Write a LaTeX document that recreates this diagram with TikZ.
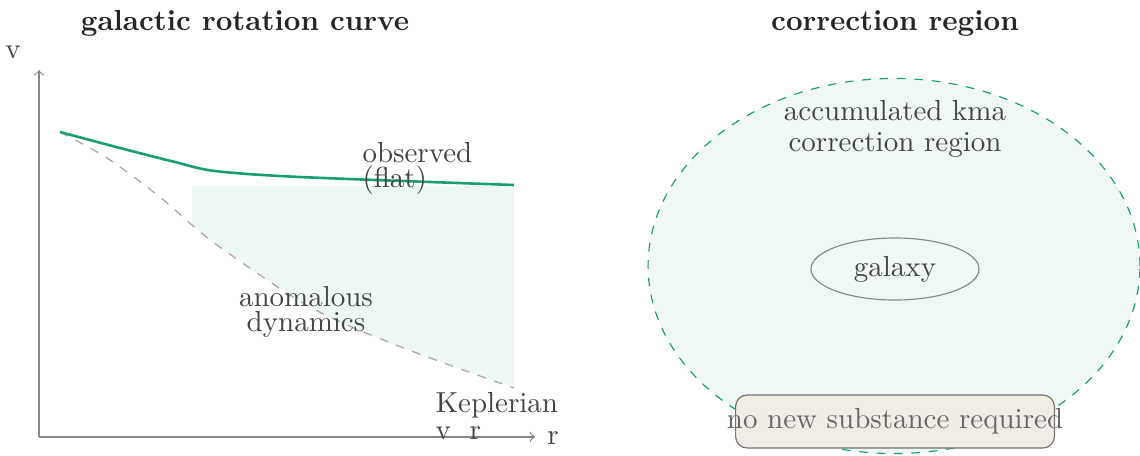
\documentclass[tikz,border=0pt]{standalone}
\usetikzlibrary{shapes.geometric}
\definecolor{kgreen}{HTML}{1B9E77}
\definecolor{txt}{HTML}{444444}
\definecolor{axisgray}{HTML}{888888}
\definecolor{keplgray}{HTML}{ADAAA3}
\definecolor{boxfill}{HTML}{F1EDE6}
\definecolor{boxtxt}{HTML}{666666}
\tikzset{
  title/.style={font=\bfseries, text=black!85, inner sep=0pt, anchor=base},
  lbl/.style={text=txt, inner sep=0pt},
  axisline/.style={draw=axisgray, line width=0.4pt, ->},
  observedcurve/.style={draw=kgreen, line width=0.9pt},
  keplercurve/.style={draw=keplgray, dashed, line width=0.45pt},
  regionfill/.style={fill=kgreen!8},
  corrregion/.style={ellipse, draw=kgreen, dashed, fill=kgreen!7, inner sep=0pt,
    minimum width=169.7pt, minimum height=129.4pt},
  galaxyshape/.style={ellipse, draw=axisgray, inner sep=0pt, text=txt,
    minimum width=58pt, minimum height=21.4pt},
  notebox/.style={draw=black!55, fill=boxfill, rounded corners=4pt, text=boxtxt,
    inner xsep=-3pt, inner ysep=0pt, minimum height=18.3pt},
}
\begin{document}
\begin{tikzpicture}[x=0.345pt,y=-0.345pt]
\useasboundingbox (0,0) rectangle (1140,455);
% titles
\node[title] (t1) at (245,30) {galactic rotation curve};
\node[title] (t2) at (895,30) {correction region};
% axes
\coordinate (O) at (39,437);
\coordinate (ytop) at (39,70);
\coordinate (xend) at (535,437);
\draw[axisline] (O) -- (ytop);
\draw[axisline] (O) -- (xend);
\node[lbl, anchor=base] (vl) at (13,58) {v};
\node[lbl, anchor=base] (rl) at (553,444) {r};
% shaded region between flat and keplerian
\begin{scope}
  \clip plot[smooth] coordinates {(60,132) (107,158) (160,197) (213,242) (310,307) (401,347) (514,388)}
     -- (600,388) -- (600,0) -- (60,0) -- cycle;
  \fill[regionfill] (192,186) rectangle (514,400);
\end{scope}
% curves
\draw[keplercurve] plot[smooth] coordinates {(60,132) (107,158) (160,197) (213,242) (310,307) (401,347) (514,388)};
\draw[observedcurve] plot[smooth] coordinates {(60,132) (120,148) (175,162) (215,171) (300,177) (514,185)};
% labels
\node[lbl, anchor=west, align=left, font={\fontsize{10}{8.6}\selectfont}] (obs) at (362,169) {observed\\(flat)};
\node[lbl, align=center, font={\fontsize{10}{8.6}\selectfont}] (anom) at (306,312) {anomalous\\dynamics};
\node[lbl, anchor=west, align=left, font={\fontsize{10}{9.3}\selectfont}] (kep) at (435,416.5) {Keplerian\\v\hspace{6.5pt}r};
% right panel
\node[corrregion] (region) at (894,266) {};
\node[lbl, align=center, font={\fontsize{10}{10.7}\selectfont}] (acc) at (895,128.5) {accumulated kma\\correction region};
\node[galaxyshape] (galaxy) at (895,269) {galaxy};
\node[notebox, minimum width=110pt] (note) at (895,421.5) {no new substance required};
\end{tikzpicture}
\end{document}
